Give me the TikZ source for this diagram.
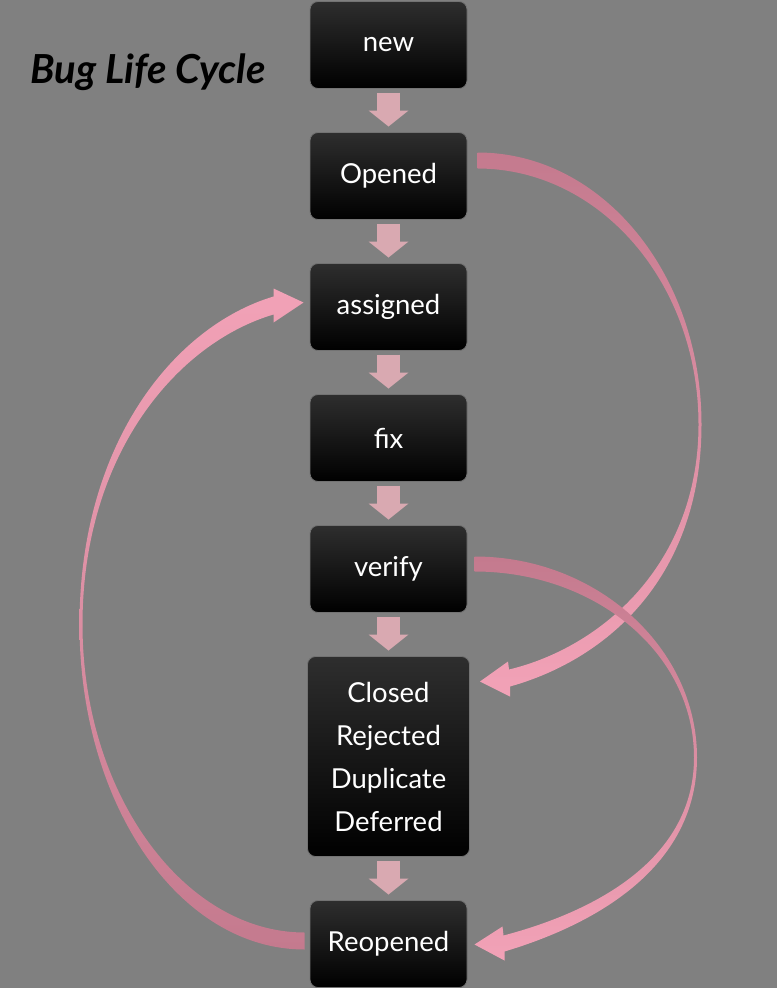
\documentclass[tikz,border=0pt]{standalone}
\usepackage{fontspec}
\setmainfont{Lato}
\usetikzlibrary{positioning,arrows.meta}

\definecolor{slidegray}{HTML}{808080}
\definecolor{stepcol}{HTML}{D9A9B1}
\definecolor{loopdark}{HTML}{C47A8E}
\definecolor{looplight}{HTML}{F2A2B7}

\tikzset{
  statebox/.style={rounded corners=8pt, top color=black!82, bottom color=black,
    draw=black!55, line width=0.8pt, text=white, minimum width=157pt,
    minimum height=87pt, inner sep=0pt, outer sep=0pt, align=center,
    font=\fontsize{27.5}{43}\selectfont},
  stepline/.style={draw=stepcol, line width=23pt,
    -{Triangle[length=16pt,width=40pt,line width=0pt]}},
  loopdown/.style={top color=loopdark, bottom color=looplight},
  loopup/.style={top color=looplight, bottom color=loopdark},
}

\begin{document}
\begin{tikzpicture}[x=1pt, y=1pt, node distance=44pt]

	% background
	\fill[slidegray] (0,0) rectangle (777,-988);
	\useasboundingbox (0,0) rectangle (777,-988);

	% title
	\node[anchor=base west, font=\fontsize{40}{42}\selectfont\bfseries\itshape] (title) at (27,-83) {Bug Life Cycle};

	% states
	\node[statebox] (new) at (388.5,-45) {new};
	\node[statebox, below=of new] (opened) {Opened};
	\node[statebox, below=of opened] (assigned) {assigned};
	\node[statebox, below=of assigned] (fix) {fix};
	\node[statebox, below=of fix] (verify) {verify};
	\node[statebox, below=of verify, minimum width=162pt, minimum height=200pt] (closed) {Closed\\Rejected\\Duplicate\\Deferred};
	\node[statebox, below=of closed] (reopened) {Reopened};

	% straight steps
	\foreach \a/\b in {new/opened, opened/assigned, assigned/fix, fix/verify, verify/closed, closed/reopened}
		\draw[stepline] ([yshift=-4pt]\a.south) -- ([yshift=6pt]\b.north);

	% Opened -> Closed
	\shade[loopdown] ([shift={(10.5,23.5)}]opened.east)
		.. controls +(125,0) and +(0,150) .. ([shift={(234.5,13.5)}]fix.east)
		.. controls +(0,-150) and +(100,28) .. ([shift={(40.5,70)}]closed.east)
		-- ([shift={(40.5,60)}]closed.east) -- ([shift={(10.5,75)}]closed.east)
		-- ([shift={(38.5,95)}]closed.east) -- ([shift={(39.5,87)}]closed.east)
		.. controls +(92,22) and +(0,-140) .. ([shift={(231.5,13.5)}]fix.east)
		.. controls +(0,142) and +(122,0) .. ([shift={(10.5,7.5)}]opened.east) -- cycle;

	% verify -> Reopened
	\shade[loopdown] ([shift={(7.5,12.5)}]verify.east)
		.. controls +(122,0) and +(0,110) .. ([shift={(227.5,-1)}]closed.east)
		.. controls +(0,-105) and +(100,30) .. ([shift={(37.5,-7.5)}]reopened.east)
		-- ([shift={(37.5,-16.5)}]reopened.east) -- ([shift={(7.5,-0.5)}]reopened.east)
		-- ([shift={(35.5,17.5)}]reopened.east) -- ([shift={(36.5,8.5)}]reopened.east)
		.. controls +(95,25) and +(0,-100) .. ([shift={(224.5,-1)}]closed.east)
		.. controls +(0,105) and +(120,0) .. ([shift={(7.5,-2.5)}]verify.east) -- cycle;

	% Reopened -> assigned
	\shade[loopup] ([shift={(-5.5,-5.5)}]reopened.west)
		.. controls +(-125,0) and +(0,-180) .. ([shift={(-230.5,-55.5)}]verify.west)
		.. controls +(0,180) and +(-100,-30) .. ([shift={(-36.5,10.5)}]assigned.west)
		-- ([shift={(-36.5,18.5)}]assigned.west) -- ([shift={(-6.5,4.5)}]assigned.west)
		-- ([shift={(-36.5,-15.5)}]assigned.west) -- ([shift={(-36.5,-7.5)}]assigned.west)
		.. controls +(-95,-28) and +(0,172) .. ([shift={(-227.5,-55.5)}]verify.west)
		.. controls +(0,-170) and +(-120,0) .. ([shift={(-5.5,11.5)}]reopened.west) -- cycle;

\end{tikzpicture}
\end{document}
